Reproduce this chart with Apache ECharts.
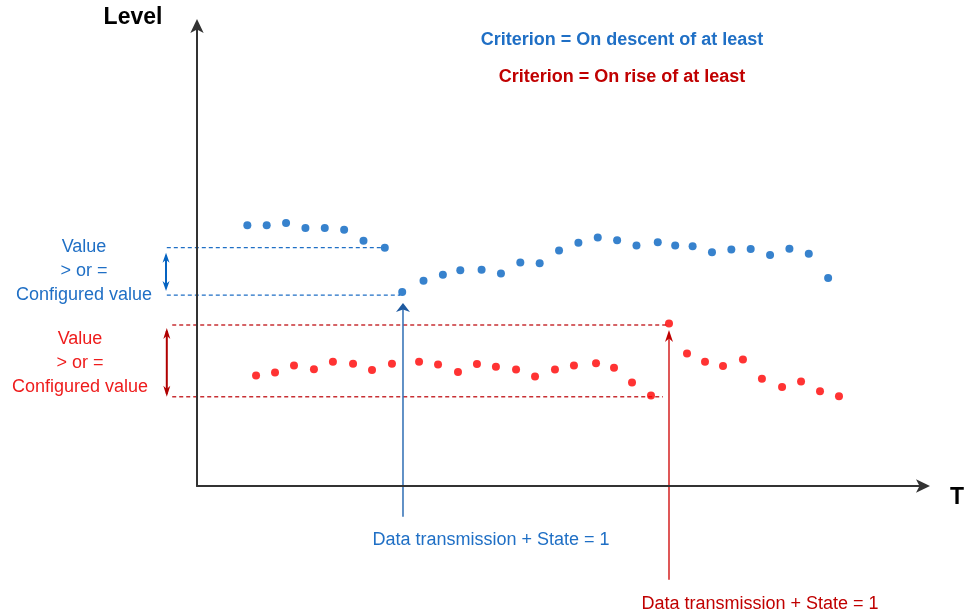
<!DOCTYPE html>
<html><head><meta charset="utf-8">
<script src="https://cdn.jsdelivr.net/npm/echarts@6/dist/echarts.min.js"></script>
<style>html,body{margin:0;padding:0;background:#fff}#c{width:965px;height:616px}</style>
</head><body><div id="c"></div>
<script>
// ---- data ----
const blueTime  = [26, 36, 46, 56, 66, 76, 86, 97, 106, 117, 127, 136, 147, 157, 167, 177, 187, 197, 207, 217, 227, 238, 247, 256, 266, 276, 286, 296, 306, 316, 326];
const blueLevel = [56.7, 56.7, 57.2, 56.1, 56.1, 55.7, 53.3, 51.8, 42.2, 44.6, 45.9, 46.9, 47.0, 46.2, 48.6, 48.4, 51.2, 52.9, 54.0, 53.4, 52.3, 53.0, 52.3, 52.1, 50.8, 51.4, 51.5, 50.2, 51.6, 50.5, 45.2];
const redTime   = [30.5, 40.3, 50.1, 60.4, 70.2, 80.6, 90.4, 100.7, 114.7, 124.5, 134.8, 144.6, 154.4, 164.8, 174.6, 184.9, 194.7, 206.1, 215.4, 224.7, 234.5, 243.8, 253.1, 262.4, 271.7, 282.0, 291.8, 302.2, 312.0, 321.8, 331.6];
const redLevel  = [24.0, 24.7, 26.2, 25.4, 27.0, 26.6, 25.2, 26.6, 27.0, 26.4, 24.8, 26.5, 25.9, 25.3, 23.8, 25.3, 26.2, 26.7, 25.7, 22.5, 19.7, 35.3, 28.8, 27.0, 26.1, 27.5, 23.3, 21.5, 22.7, 20.6, 19.5];
const blueThreshold = [51.8, 41.5];   // upper / lower reference levels
const redThreshold  = [35.0, 19.4];
const blueEventTime = 106.4;
const redEventTime  = 243.8;
const labelStart = { blue: -15.6, red: -12.8 };
const lineEnd = { blueUpper: 96.6, blueLower: 104.9, redUpper: 243.8, redLower: 240.7 };
const eventArrowBottom = { blue: -6.7, red: -20.4 };
const blueTitle = 'Criterion = On descent of at least';
const redTitle = 'Criterion = On rise of at least';
const valueLines = ['Value', '> or =', 'Configured value'];
const eventText = 'Data transmission + State = 1';

const BLUE = '#0563c1', BLUE_TXT = '#1f6fc5', BLUE_DARK = '#2a62a8';
const RED = '#ff0000', RED_DARK = '#c00000', RED_LINE = '#c83034';
const FONT = '"Liberation Sans", Arial, sans-serif';

const chart = echarts.init(document.getElementById('c'), null, { renderer: 'canvas' });
const axisCommon = {
  type: 'value',
  axisLine: { show: true, onZero: false, symbol: ['none', 'arrow'], symbolSize: [10, 14], symbolOffset: [0, 7], lineStyle: { color: '#333', width: 2 } },
  axisTick: { show: false }, axisLabel: { show: false }, splitLine: { show: false }
};
chart.setOption({
  animation: false,
  backgroundColor: '#fff',
  grid: { left: 197, right: 42, top: 26, bottom: 130 },
  xAxis: Object.assign({ min: 0, max: 375 }, axisCommon),
  yAxis: Object.assign({ min: 0, max: 100 }, axisCommon),
  series: [
    { type: 'scatter', symbolSize: 8, itemStyle: { color: BLUE }, data: blueTime.map((t, i) => [t, blueLevel[i]]) },
    { type: 'scatter', symbolSize: 8, itemStyle: { color: RED }, data: redTime.map((t, i) => [t, redLevel[i]]) }
  ]
});

function px(t, v) { return chart.convertToPixel({ gridIndex: 0 }, [t, v]); }
function dashed(t1, t2, v, color) {
  const a = px(t1, v), b = px(t2, v);
  return { type: 'line', shape: { x1: a[0], y1: a[1], x2: b[0], y2: b[1] }, style: { stroke: color, lineWidth: 1.3, lineDash: [4, 3] } };
}
function head(x, y, dir, w, h, color) {
  // dir = -1 points up, +1 points down
  return { type: 'polygon', shape: { points: [[x, y], [x - w / 2, y - dir * h], [x, y - dir * h * 0.7], [x + w / 2, y - dir * h]] }, style: { fill: color } };
}
function vline(x, y1, y2, color, width) {
  return { type: 'line', shape: { x1: x, y1: y1, x2: x, y2: y2 }, style: { stroke: color, lineWidth: width } };
}
function txt(x, y, text, color, size, bold, align) {
  return { type: 'text', x: x, y: y, style: { text: text, fill: color, font: (bold ? 'bold ' : '') + size + 'px ' + FONT, align: align || 'center', verticalAlign: 'middle' } };
}

const g = [];
// dashed reference lines
g.push(dashed(labelStart.blue, lineEnd.blueUpper, blueThreshold[0], BLUE_TXT));
g.push(dashed(labelStart.blue, lineEnd.blueLower, blueThreshold[1], BLUE_TXT));
g.push(dashed(labelStart.red, lineEnd.redUpper, redThreshold[0], RED_LINE));
g.push(dashed(labelStart.red, lineEnd.redLower, redThreshold[1], RED_LINE));
// double arrows
(function () {
  const a = px(-16, blueThreshold[0]), b = px(-16, blueThreshold[1]);
  const top = a[1] + 5, bot = b[1] - 4;
  g.push(vline(a[0], top + 3, bot - 3, BLUE, 2));
  g.push(head(a[0], top, -1, 7, 10, BLUE));
  g.push(head(a[0], bot, 1, 7, 10, BLUE));
  const c = px(-15.6, redThreshold[0]), d = px(-15.6, redThreshold[1]);
  const top2 = c[1] + 3, bot2 = d[1];
  g.push(vline(c[0], top2 + 3, bot2 - 3, '#b00000', 2));
  g.push(head(c[0], top2, -1, 7, 11, '#b00000'));
  g.push(head(c[0], bot2, 1, 7, 11, '#b00000'));
})();
// event arrows
(function () {
  const tip = px(blueEventTime, blueThreshold[1]);
  const bottom = px(blueEventTime, eventArrowBottom.blue);
  const tipY = tip[1] + 8;
  g.push(vline(tip[0], tipY + 6, bottom[1], '#2e6db4', 1.5));
  g.push(head(tip[0], tipY, -1, 14, 9, '#1f5aa0'));
  const tip2 = px(redEventTime, redThreshold[0]);
  const bottom2 = px(redEventTime, eventArrowBottom.red);
  const tipY2 = tip2[1] + 5;
  g.push(vline(tip2[0], tipY2 + 8, bottom2[1], '#d42020', 1.5));
  g.push(head(tip2[0], tipY2, -1, 8, 12, '#c00000'));
})();
// texts
g.push(txt(133, 18, 'Level', '#000', 23, true));
g.push(txt(950, 498, 'Time', '#000', 23, true, 'left'));
g.push(txt(622, 40, blueTitle, BLUE_TXT, 18, true));
g.push(txt(622, 77, redTitle, RED_DARK, 18, true));
[247, 271, 295].forEach((y, i) => g.push(txt(84, y, valueLines[i], BLUE_TXT, 18, false)));
[339, 363, 387].forEach((y, i) => g.push(txt(80, y, valueLines[i], '#ee1c1c', 18, false)));
g.push(txt(491, 540, eventText, BLUE_TXT, 18, false));
g.push(txt(760, 604, eventText, RED_DARK, 18, false));

chart.setOption({ graphic: { elements: g } });
</script>
</body></html>
